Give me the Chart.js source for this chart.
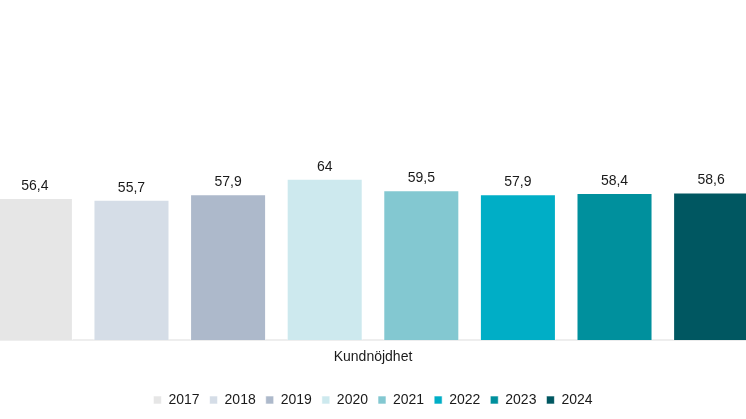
<!DOCTYPE html>
<html lang="sv">
<head>
    <meta charset="UTF-8">
    <title>Kundnöjdhet</title>
    <script src="https://cdn.jsdelivr.net/npm/chart.js"></script>
    <style>
        html, body {
            margin: 0;
            padding: 0;
            background: #ffffff;
        }
        .wrap {
            width: 746px;
            height: 419px;
        }
    </style>
</head>
<body>
    <div class="wrap">
        <canvas id="chart"></canvas>
    </div>
    <script>
        var categories = ['Kundnöjdhet'];
        var years = ['2017', '2018', '2019', '2020', '2021', '2022', '2023', '2024'];
        var values = [56.4, 55.7, 57.9, 64, 59.5, 57.9, 58.4, 58.6];
        var colors = ['#e6e6e6', '#d5dde7', '#adb9cb', '#cde9ee', '#83c8d1', '#00aec6', '#00909d', '#005761'];

        // etiketter ovanför staplarna, med decimalkomma
        var valueLabels = {
            id: 'valueLabels',
            afterDatasetsDraw: function(chart) {
                var ctx = chart.ctx;
                ctx.save();
                ctx.font = '14px "Liberation Sans", Arial, sans-serif';
                ctx.fillStyle = '#1a1a1a';
                ctx.textAlign = 'center';
                ctx.textBaseline = 'bottom';
                chart.data.datasets.forEach(function(ds, i) {
                    var meta = chart.getDatasetMeta(i);
                    meta.data.forEach(function(bar, j) {
                        var txt = String(ds.data[j]).replace('.', ',');
                        ctx.fillText(txt, bar.x, bar.y - 5);
                    });
                });
                ctx.restore();
            }
        };

        var datasets = years.map(function(y, i) {
            return {
                label: y,
                data: [values[i]],
                backgroundColor: colors[i],
                borderColor: 'rgba(255,255,255,0.6)',
                borderWidth: 1,
                categoryPercentage: 1.036,
                barPercentage: 0.787
            };
        });

        new Chart(document.getElementById('chart'), {
            type: 'bar',
            data: {
                labels: categories,
                datasets: datasets
            },
            options: {
                responsive: true,
                maintainAspectRatio: false,
                animation: false,
                layout: {
                    padding: { top: 88, bottom: 2, left: 0, right: 0 }
                },
                plugins: {
                    legend: {
                        position: 'bottom',
                        labels: {
                            boxWidth: 8,
                            boxHeight: 8,
                            padding: 10,
                            color: '#1a1a1a',
                            font: { size: 14, family: '"Liberation Sans", Arial, sans-serif' }
                        }
                    },
                    tooltip: { enabled: false }
                },
                scales: {
                    x: {
                        grid: { display: false },
                        border: { color: '#eeeeee', width: 2 },
                        ticks: {
                            color: '#1a1a1a',
                            padding: 1,
                            font: { size: 14, family: '"Liberation Sans", Arial, sans-serif' }
                        },
                        afterFit: function(scale) {
                            scale.height += 16;
                        }
                    },
                    y: {
                        display: false,
                        min: 0,
                        max: 100
                    }
                }
            },
            plugins: [valueLabels]
        });
    </script>
</body>
</html>
